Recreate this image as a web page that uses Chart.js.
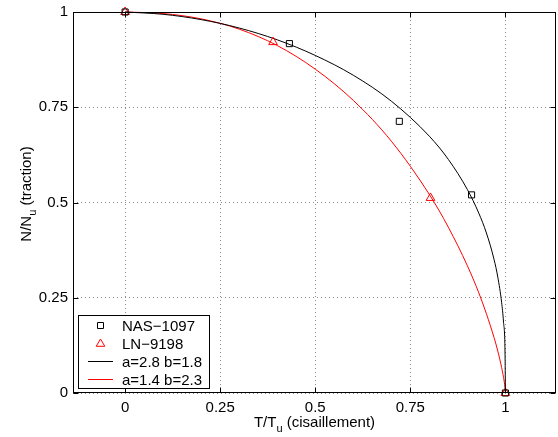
<!DOCTYPE html>
<html>
<head>
<meta charset="utf-8">
<script src="https://cdn.jsdelivr.net/npm/chart.js@4/dist/chart.umd.min.js"></script>
<style>
  html, body { margin: 0; padding: 0; background: #fff; }
  #wrap { width: 558px; height: 437px; }
</style>
</head>
<body>
<div id="wrap"><canvas id="myChart" width="558" height="437"></canvas></div>
<script>
// tick values
const xTicks = [0, 0.25, 0.5, 0.75, 1];
const yTicks = [0, 0.25, 0.5, 0.75, 1];

// measured points
const nasT = [0, 0.432, 0.721, 0.911, 1];
const nasN = [1, 0.917, 0.713, 0.52, 0];
const lnT = [0, 0.389, 0.803, 1];
const lnN = [1, 0.921, 0.512, 0];

// interaction curves
const curveT = [0, 0.1, 0.2, 0.3, 0.4, 0.5, 0.6, 0.7, 0.8, 0.85, 0.9, 0.93, 0.95, 0.97, 0.98, 0.99, 0.995, 0.999, 1];
const blackN = [1, 0.994, 0.98, 0.958, 0.927, 0.886, 0.834, 0.766, 0.674, 0.613, 0.534, 0.472, 0.42, 0.351, 0.304, 0.238, 0.186, 0.105, 0];
const redN = [1, 0.996, 0.982, 0.955, 0.912, 0.85, 0.768, 0.661, 0.521, 0.435, 0.334, 0.263, 0.208, 0.146, 0.11, 0.067, 0.041, 0.013, 0];

const labels = ["NAS\u22121097", "LN\u22129198", "a=2.8 b=1.8", "a=1.4 b=2.3"];

const FONT = "Liberation Sans, Arial, Helvetica, sans-serif";
const FS = 15;

function pts(xs, ys) {
    return xs.map((x, i) => ({ x: x, y: ys[i] }));
}

function drawMarker(ctx, style, color, x, y) {
    ctx.save();
    ctx.strokeStyle = color;
    ctx.lineWidth = 1;
    ctx.beginPath();
    if (style == "rect") {
        ctx.rect(x - 3, y - 3, 6, 6);
    } else {
        ctx.moveTo(x, y - 4.5);
        ctx.lineTo(x + 4.3, y + 2.8);
        ctx.lineTo(x - 4.3, y + 2.8);
        ctx.closePath();
    }
    ctx.stroke();
    ctx.restore();
}

// frame, inner ticks, axis titles, legend
const decorations = {
    id: "decorations",
    afterDraw(chart) {
        const ctx = chart.ctx;
        const a = chart.chartArea;
        const xs = chart.scales.x;
        const ys = chart.scales.y;
        const L = Math.round(a.left) + 0.5, R = Math.round(a.right) - 0.5;
        const T = Math.round(a.top) + 0.5, B = Math.round(a.bottom) - 0.5;

        ctx.save();
        ctx.strokeStyle = "#000";
        ctx.lineWidth = 1;
        ctx.strokeRect(L, T, R - L, B - T);

        ctx.beginPath();
        xTicks.forEach(v => {
            const px = Math.round(xs.getPixelForValue(v)) + 0.5;
            ctx.moveTo(px, B); ctx.lineTo(px, B - 5);
            ctx.moveTo(px, T); ctx.lineTo(px, T + 5);
        });
        yTicks.forEach(v => {
            const py = Math.round(ys.getPixelForValue(v)) + 0.5;
            ctx.moveTo(L, py); ctx.lineTo(L + 5, py);
            ctx.moveTo(R, py); ctx.lineTo(R - 5, py);
        });
        ctx.stroke();

        // axis titles with subscripts
        ctx.fillStyle = "#000";
        ctx.textBaseline = "alphabetic";
        const big = FS + "px " + FONT;
        const small = Math.round(FS * 0.75) + "px " + FONT;
        function subText(parts, cx, cy) {
            let w = 0;
            parts.forEach(p => { ctx.font = p[1] ? small : big; w += ctx.measureText(p[0]).width; });
            let x = cx - w / 2;
            parts.forEach(p => {
                ctx.font = p[1] ? small : big;
                ctx.fillText(p[0], x, p[1] ? cy + 5 : cy);
                x += ctx.measureText(p[0]).width;
            });
        }
        subText([["T/T", false], ["u", true], [" (cisaillement)", false]], (a.left + a.right) / 2, 427);

        ctx.save();
        ctx.translate(31, 194);
        ctx.rotate(-Math.PI / 2);
        subText([["N/N", false], ["u", true], [" (traction)", false]], 0, 0);
        ctx.restore();

        // legend
        const lx = 78.5, ly = 315.5, lw = 131, lh = 73;
        ctx.fillStyle = "#fff";
        ctx.fillRect(lx, ly, lw, lh);
        ctx.strokeStyle = "#000";
        ctx.strokeRect(lx, ly, lw, lh);
        const ds = chart.data.datasets;
        ctx.font = big;
        ds.forEach((d, i) => {
            const y = 325 + i * 18;
            if (d.showLine) {
                ctx.strokeStyle = d.borderColor;
                ctx.beginPath();
                ctx.moveTo(88, y + 0.5);
                ctx.lineTo(113, y + 0.5);
                ctx.stroke();
            } else {
                drawMarker(ctx, d.pointStyle, d.borderColor, 100.5, y + 0.5);
            }
            ctx.fillStyle = "#000";
            ctx.fillText(d.label, 122, y + 5.5);
        });
        ctx.restore();
    }
};

const ctx = document.getElementById("myChart").getContext("2d");
new Chart(ctx, {
    type: "scatter",
    data: {
        datasets: [
            {
                label: labels[0],
                data: pts(nasT, nasN),
                pointStyle: "rect",
                pointRadius: 4.3,
                pointBorderWidth: 1,
                borderColor: "#000",
                backgroundColor: "rgba(0,0,0,0)",
                showLine: false,
                clip: false
            },
            {
                label: labels[1],
                data: pts(lnT, lnN),
                pointStyle: "triangle",
                pointRadius: 5,
                pointBorderWidth: 1,
                borderColor: "#ff0000",
                backgroundColor: "rgba(0,0,0,0)",
                showLine: false,
                clip: false
            },
            {
                label: labels[2],
                data: pts(curveT, blackN),
                showLine: true,
                pointRadius: 0,
                borderColor: "#000",
                borderWidth: 1,
                cubicInterpolationMode: "monotone",
                clip: false
            },
            {
                label: labels[3],
                data: pts(curveT, redN),
                showLine: true,
                pointRadius: 0,
                borderColor: "#ff0000",
                borderWidth: 1,
                cubicInterpolationMode: "monotone",
                clip: false
            }
        ]
    },
    options: {
        responsive: false,
        animation: false,
        devicePixelRatio: 1,
        layout: { autoPadding: false, padding: { left: 0, top: 12, right: 2, bottom: 0 } },
        plugins: {
            legend: { display: false },
            tooltip: { enabled: false }
        },
        scales: {
            x: {
                type: "linear",
                min: -0.137,
                max: 1.133,
                afterBuildTicks: s => { s.ticks = xTicks.map(v => ({ value: v })); },
                afterFit: s => { s.height = 44; s.paddingLeft = 0; s.paddingRight = 0; },
                ticks: {
                    color: "#000",
                    font: { family: FONT, size: FS },
                    padding: 6,
                    maxRotation: 0,
                    callback: v => String(v)
                },
                grid: { color: "#8a8a8a", lineWidth: 1, drawTicks: false },
                border: { display: false, dash: [1, 3] }
            },
            y: {
                type: "linear",
                min: 0,
                max: 1,
                afterBuildTicks: s => { s.ticks = yTicks.map(v => ({ value: v })); },
                afterFit: s => { s.width = 73; s.paddingTop = 0; s.paddingBottom = 0; },
                ticks: {
                    color: "#000",
                    font: { family: FONT, size: FS },
                    padding: 5,
                    callback: v => String(v)
                },
                grid: { color: "#8a8a8a", lineWidth: 1, drawTicks: false },
                border: { display: false, dash: [1, 3] }
            }
        }
    },
    plugins: [decorations]
});
</script>
</body>
</html>
